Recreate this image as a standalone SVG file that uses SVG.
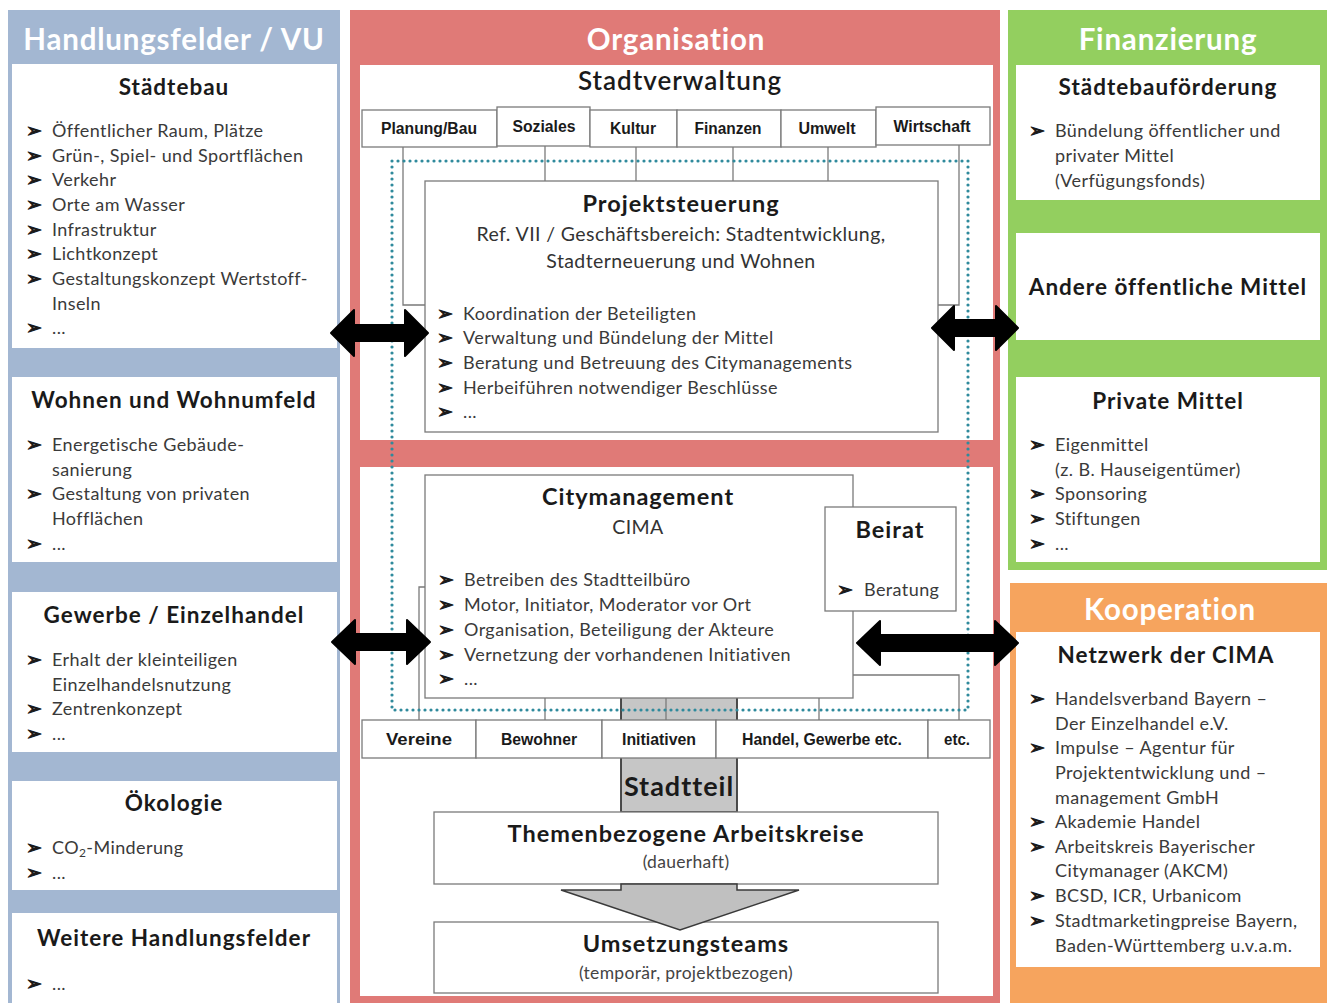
<svg xmlns="http://www.w3.org/2000/svg" width="1334" height="1003" viewBox="0 0 1334 1003">
<style>
.ttl{font-family:Lato,"Open Sans","Liberation Sans",sans-serif;font-weight:bold;font-size:29.5px;letter-spacing:0.8px;fill:#fff;text-anchor:middle}
.hd{font-family:Lato,"Open Sans","Liberation Sans",sans-serif;font-weight:bold;font-size:22.5px;letter-spacing:1px;fill:#1a1a1a;text-anchor:middle}
.hd2{font-family:Lato,"Open Sans","Liberation Sans",sans-serif;font-weight:bold;font-size:23.5px;letter-spacing:1px;fill:#1a1a1a;text-anchor:middle}
.sub{font-family:Lato,"Open Sans","Liberation Sans",sans-serif;font-size:19.5px;letter-spacing:0.4px;fill:#333;text-anchor:middle}
.sub2{font-family:Lato,"Open Sans","Liberation Sans",sans-serif;font-size:17.5px;letter-spacing:0.3px;fill:#444;text-anchor:middle}
.it{font-family:Lato,"Open Sans","Liberation Sans",sans-serif;font-size:18px;letter-spacing:0.4px;fill:#3a3a3a}
.bu{font-family:"DejaVu Sans",sans-serif;font-size:19px;fill:#1a1a1a;stroke:#1a1a1a;stroke-width:0.9px;stroke-linejoin:round}
.dep{font-family:"Liberation Sans Narrow","Liberation Sans",sans-serif;font-weight:bold;font-size:16px;fill:#1a1a1a;text-anchor:middle}
.box{fill:#fff;stroke:#7a7a7a;stroke-width:1.3}
.ln{fill:none;stroke:#7a7a7a;stroke-width:1.3}
.wb{fill:#fff}
.dot{fill:none;stroke:#2f8a9c;stroke-width:3.2;stroke-linecap:round;stroke-dasharray:0 6}
.arr{fill:#000;stroke:#000;stroke-width:2;stroke-linejoin:round}
</style>

<!-- Left column -->
<g id="col-handlungsfelder">
  <rect x="8" y="10" width="332" height="993" fill="#a3b7d2"/>
  <text class="ttl" x="174" y="50">Handlungsfelder / VU</text>
</g>
<g id="node-staedtebau">
  <rect class="wb" x="12" y="64" width="325" height="284"/>
  <text class="hd" x="174" y="95">Städtebau</text>
  <text class="bu" x="26" y="137">➢</text><text class="it" x="52" y="137">Öffentlicher Raum, Plätze</text>
  <text class="bu" x="26" y="162">➢</text><text class="it" x="52" y="162">Grün-, Spiel- und Sportflächen</text>
  <text class="bu" x="26" y="186">➢</text><text class="it" x="52" y="186">Verkehr</text>
  <text class="bu" x="26" y="211">➢</text><text class="it" x="52" y="211">Orte am Wasser</text>
  <text class="bu" x="26" y="236">➢</text><text class="it" x="52" y="236">Infrastruktur</text>
  <text class="bu" x="26" y="260">➢</text><text class="it" x="52" y="260">Lichtkonzept</text>
  <text class="bu" x="26" y="285">➢</text><text class="it" x="52" y="285">Gestaltungskonzept Wertstoff-</text>
  <text class="it" x="52" y="310">Inseln</text>
  <text class="bu" x="26" y="334">➢</text><text class="it" x="52" y="334">...</text>
</g>
<g id="node-wohnen">
  <rect class="wb" x="12" y="377" width="325" height="185"/>
  <text class="hd" x="174" y="408">Wohnen und Wohnumfeld</text>
  <text class="bu" x="26" y="451">➢</text><text class="it" x="52" y="451">Energetische Gebäude-</text>
  <text class="it" x="52" y="476">sanierung</text>
  <text class="bu" x="26" y="500">➢</text><text class="it" x="52" y="500">Gestaltung von privaten</text>
  <text class="it" x="52" y="525">Hofflächen</text>
  <text class="bu" x="26" y="550">➢</text><text class="it" x="52" y="550">...</text>
</g>
<g id="node-gewerbe">
  <rect class="wb" x="12" y="592" width="325" height="160"/>
  <text class="hd" x="174" y="623">Gewerbe / Einzelhandel</text>
  <text class="bu" x="26" y="666">➢</text><text class="it" x="52" y="666">Erhalt der kleinteiligen</text>
  <text class="it" x="52" y="691">Einzelhandelsnutzung</text>
  <text class="bu" x="26" y="715">➢</text><text class="it" x="52" y="715">Zentrenkonzept</text>
  <text class="bu" x="26" y="740">➢</text><text class="it" x="52" y="740">...</text>
</g>
<g id="node-oekologie">
  <rect class="wb" x="12" y="781" width="325" height="109"/>
  <text class="hd" x="174" y="811">Ökologie</text>
  <text class="bu" x="26" y="854">➢</text><text class="it" x="52" y="854">CO<tspan font-size="12" dy="3">2</tspan><tspan dy="-3">-Minderung</tspan></text>
  <text class="bu" x="26" y="879">➢</text><text class="it" x="52" y="879">...</text>
</g>
<g id="node-weitere">
  <rect class="wb" x="12" y="913" width="325" height="90"/>
  <text class="hd" x="174" y="946">Weitere Handlungsfelder</text>
  <text class="bu" x="26" y="990">➢</text><text class="it" x="52" y="990">...</text>
</g>

<!-- Center column -->
<g id="col-organisation">
  <rect x="350" y="10" width="650" height="993" fill="#e07a77"/>
  <text class="ttl" x="676" y="50">Organisation</text>
  <rect class="wb" x="360" y="65" width="633" height="375"/>
  <rect class="wb" x="360" y="467" width="633" height="529"/>
</g>
<g id="node-stadtverwaltung">
  <text x="680" y="90" font-family="Lato,'Open Sans','Liberation Sans',sans-serif" font-size="26" font-weight="600" letter-spacing="1" fill="#1a1a1a" text-anchor="middle">Stadtverwaltung</text>
</g>

<g id="connectors">
  <polyline class="ln" points="425,305 403,305 403,146"/>
  <polyline class="ln" points="938,305 959,305 959,145"/>
  <line class="ln" x1="545" y1="146" x2="545" y2="181"/>
  <line class="ln" x1="636" y1="147" x2="636" y2="181"/>
  <line class="ln" x1="733" y1="147" x2="733" y2="181"/>
  <line class="ln" x1="828" y1="147" x2="828" y2="181"/>
  <polyline class="ln" points="425,587 419,587 419,720"/>
  <polyline class="ln" points="853,675 959,675 959,720"/>
  <line class="ln" x1="545" y1="698" x2="545" y2="720"/>
  <line class="ln" x1="819" y1="698" x2="819" y2="720"/>
</g>

<g id="node-stadtteil">
  <rect x="621" y="691" width="116" height="121" fill="#c6c6c6" stroke="#3a3a3a" stroke-width="1.8"/>
  <line class="ln" x1="666" y1="698" x2="666" y2="720"/>
  <text x="679" y="796" font-family="Lato,'Open Sans','Liberation Sans',sans-serif" font-size="27" font-weight="bold" letter-spacing="1" fill="#1a1a1a" text-anchor="middle">Stadtteil</text>
</g>

<g id="node-projektsteuerung">
  <rect class="box" x="425" y="181" width="513" height="251"/>
  <text class="hd2" x="681" y="212">Projektsteuerung</text>
  <text class="sub" x="681" y="241">Ref. VII / Geschäftsbereich: Stadtentwicklung,</text>
  <text class="sub" x="681" y="268">Stadterneuerung und Wohnen</text>
  <text class="bu" x="437" y="320">➢</text><text class="it" x="463" y="320">Koordination der Beteiligten</text>
  <text class="bu" x="437" y="344">➢</text><text class="it" x="463" y="344">Verwaltung und Bündelung der Mittel</text>
  <text class="bu" x="437" y="369">➢</text><text class="it" x="463" y="369">Beratung und Betreuung des Citymanagements</text>
  <text class="bu" x="437" y="394">➢</text><text class="it" x="463" y="394">Herbeiführen notwendiger Beschlüsse</text>
  <text class="bu" x="437" y="418">➢</text><text class="it" x="463" y="418">...</text>
</g>

<g id="node-departments">
  <rect class="box" x="362" y="110" width="135" height="37"/><text class="dep" x="429" y="134" textLength="96" lengthAdjust="spacingAndGlyphs">Planung/Bau</text>
  <rect class="box" x="497" y="107" width="93" height="39"/><text class="dep" x="544" y="132" textLength="63" lengthAdjust="spacingAndGlyphs">Soziales</text>
  <rect class="box" x="590" y="110" width="87" height="37"/><text class="dep" x="633" y="134" textLength="46" lengthAdjust="spacingAndGlyphs">Kultur</text>
  <rect class="box" x="677" y="110" width="104" height="37"/><text class="dep" x="728" y="134" textLength="67" lengthAdjust="spacingAndGlyphs">Finanzen</text>
  <rect class="box" x="781" y="110" width="95" height="37"/><text class="dep" x="827" y="134" textLength="57" lengthAdjust="spacingAndGlyphs">Umwelt</text>
  <rect class="box" x="876" y="107" width="114" height="38"/><text class="dep" x="932" y="132" textLength="77" lengthAdjust="spacingAndGlyphs">Wirtschaft</text>
</g>

<g id="node-citymanagement">
  <rect class="box" x="425" y="475" width="428" height="223"/>
  <text class="hd2" x="638" y="505">Citymanagement</text>
  <text class="sub" x="638" y="534">CIMA</text>
  <text class="bu" x="438" y="586">➢</text><text class="it" x="464" y="586">Betreiben des Stadtteilbüro</text>
  <text class="bu" x="438" y="611">➢</text><text class="it" x="464" y="611">Motor, Initiator, Moderator vor Ort</text>
  <text class="bu" x="438" y="636">➢</text><text class="it" x="464" y="636">Organisation, Beteiligung der Akteure</text>
  <text class="bu" x="438" y="661">➢</text><text class="it" x="464" y="661">Vernetzung der vorhandenen Initiativen</text>
  <text class="bu" x="438" y="685">➢</text><text class="it" x="464" y="685">...</text>
</g>

<g id="node-beirat">
  <rect class="box" x="825" y="507" width="131" height="104"/>
  <text class="hd2" x="890" y="538">Beirat</text>
  <text class="bu" x="837" y="596">➢</text><text class="it" x="864" y="596">Beratung</text>
</g>

<g id="node-akteure">
  <rect class="box" x="362" y="720" width="114" height="38"/><text class="dep" x="419" y="745" textLength="66" lengthAdjust="spacingAndGlyphs">Vereine</text>
  <rect class="box" x="476" y="720" width="126" height="38"/><text class="dep" x="539" y="745" textLength="76" lengthAdjust="spacingAndGlyphs">Bewohner</text>
  <rect class="box" x="602" y="720" width="114" height="38"/><text class="dep" x="659" y="745" textLength="74" lengthAdjust="spacingAndGlyphs">Initiativen</text>
  <rect class="box" x="716" y="720" width="212" height="38"/><text class="dep" x="822" y="745" textLength="160" lengthAdjust="spacingAndGlyphs">Handel, Gewerbe etc.</text>
  <rect class="box" x="928" y="720" width="62" height="38"/><text class="dep" x="957" y="745" textLength="26" lengthAdjust="spacingAndGlyphs">etc.</text>
</g>

<g id="node-arbeitskreise">
  <rect class="box" x="434" y="812" width="504" height="72"/>
  <text class="hd2" x="686" y="842">Themenbezogene Arbeitskreise</text>
  <text class="sub2" x="686" y="868">(dauerhaft)</text>
</g>

<g id="node-umsetzungsteams">
  <rect class="box" x="434" y="922" width="504" height="71"/>
  <text class="hd2" x="686" y="952">Umsetzungsteams</text>
  <text class="sub2" x="686" y="979">(temporär, projektbezogen)</text>
</g>

<!-- Right column -->
<g id="col-finanzierung">
  <rect x="1008" y="10" width="319" height="560" fill="#93cf5f"/>
  <text class="ttl" x="1168" y="50">Finanzierung</text>
</g>
<g id="node-staedtebaufoerderung">
  <rect class="wb" x="1016" y="65" width="304" height="135"/>
  <text class="hd" x="1168" y="95">Städtebauförderung</text>
  <text class="bu" x="1029" y="137">➢</text><text class="it" x="1055" y="137">Bündelung öffentlicher und</text>
  <text class="it" x="1055" y="162">privater Mittel</text>
  <text class="it" x="1055" y="187">(Verfügungsfonds)</text>
</g>
<g id="node-andere">
  <rect class="wb" x="1016" y="233" width="304" height="107"/>
  <text class="hd" x="1168" y="295">Andere öffentliche Mittel</text>
</g>
<g id="node-private">
  <rect class="wb" x="1016" y="377" width="304" height="185"/>
  <text class="hd" x="1168" y="409">Private Mittel</text>
  <text class="bu" x="1029" y="451">➢</text><text class="it" x="1055" y="451">Eigenmittel</text>
  <text class="it" x="1055" y="476">(z. B. Hauseigentümer)</text>
  <text class="bu" x="1029" y="500">➢</text><text class="it" x="1055" y="500">Sponsoring</text>
  <text class="bu" x="1029" y="525">➢</text><text class="it" x="1055" y="525">Stiftungen</text>
  <text class="bu" x="1029" y="550">➢</text><text class="it" x="1055" y="550">...</text>
</g>

<g id="col-kooperation">
  <rect x="1010" y="583" width="317" height="420" fill="#f6a45e"/>
  <text class="ttl" x="1170" y="620">Kooperation</text>
</g>
<g id="node-netzwerk">
  <rect class="wb" x="1016" y="632" width="304" height="335"/>
  <text class="hd" x="1166" y="663">Netzwerk der CIMA</text>
  <text class="bu" x="1029" y="705">➢</text><text class="it" x="1055" y="705">Handelsverband Bayern –</text>
  <text class="it" x="1055" y="730">Der Einzelhandel e.V.</text>
  <text class="bu" x="1029" y="754">➢</text><text class="it" x="1055" y="754">Impulse – Agentur für</text>
  <text class="it" x="1055" y="779">Projektentwicklung und –</text>
  <text class="it" x="1055" y="804">management GmbH</text>
  <text class="bu" x="1029" y="828">➢</text><text class="it" x="1055" y="828">Akademie Handel</text>
  <text class="bu" x="1029" y="853">➢</text><text class="it" x="1055" y="853">Arbeitskreis Bayerischer</text>
  <text class="it" x="1055" y="877">Citymanager (AKCM)</text>
  <text class="bu" x="1029" y="902">➢</text><text class="it" x="1055" y="902">BCSD, ICR, Urbanicom</text>
  <text class="bu" x="1029" y="927">➢</text><text class="it" x="1055" y="927">Stadtmarketingpreise Bayern,</text>
  <text class="it" x="1055" y="952">Baden-Württemberg u.v.a.m.</text>
</g>

<g id="connector-arrows">
  <polygon points="621,884 621,890 561,890 680,930 799,890 737,890 737,884" fill="#c0c0c0" stroke="#3a3a3a" stroke-width="1.5"/>
  <rect x="392" y="161" width="576" height="549" class="dot"/>
  <polygon class="arr" points="331,333 354,310 354,325 405,325 405,310 428,333 405,356 405,341 354,341 354,356"/>
  <polygon class="arr" points="932,328 954,306 954,320 996,320 996,306 1018,328 996,350 996,336 954,336 954,350"/>
  <polygon class="arr" points="332,642 355,620 355,634 407,634 407,620 430,642 407,664 407,650 355,650 355,664"/>
  <polygon class="arr" points="857,643 880,621 880,635 995,635 995,621 1018,643 995,665 995,651 880,651 880,665"/>
</g>
</svg>
